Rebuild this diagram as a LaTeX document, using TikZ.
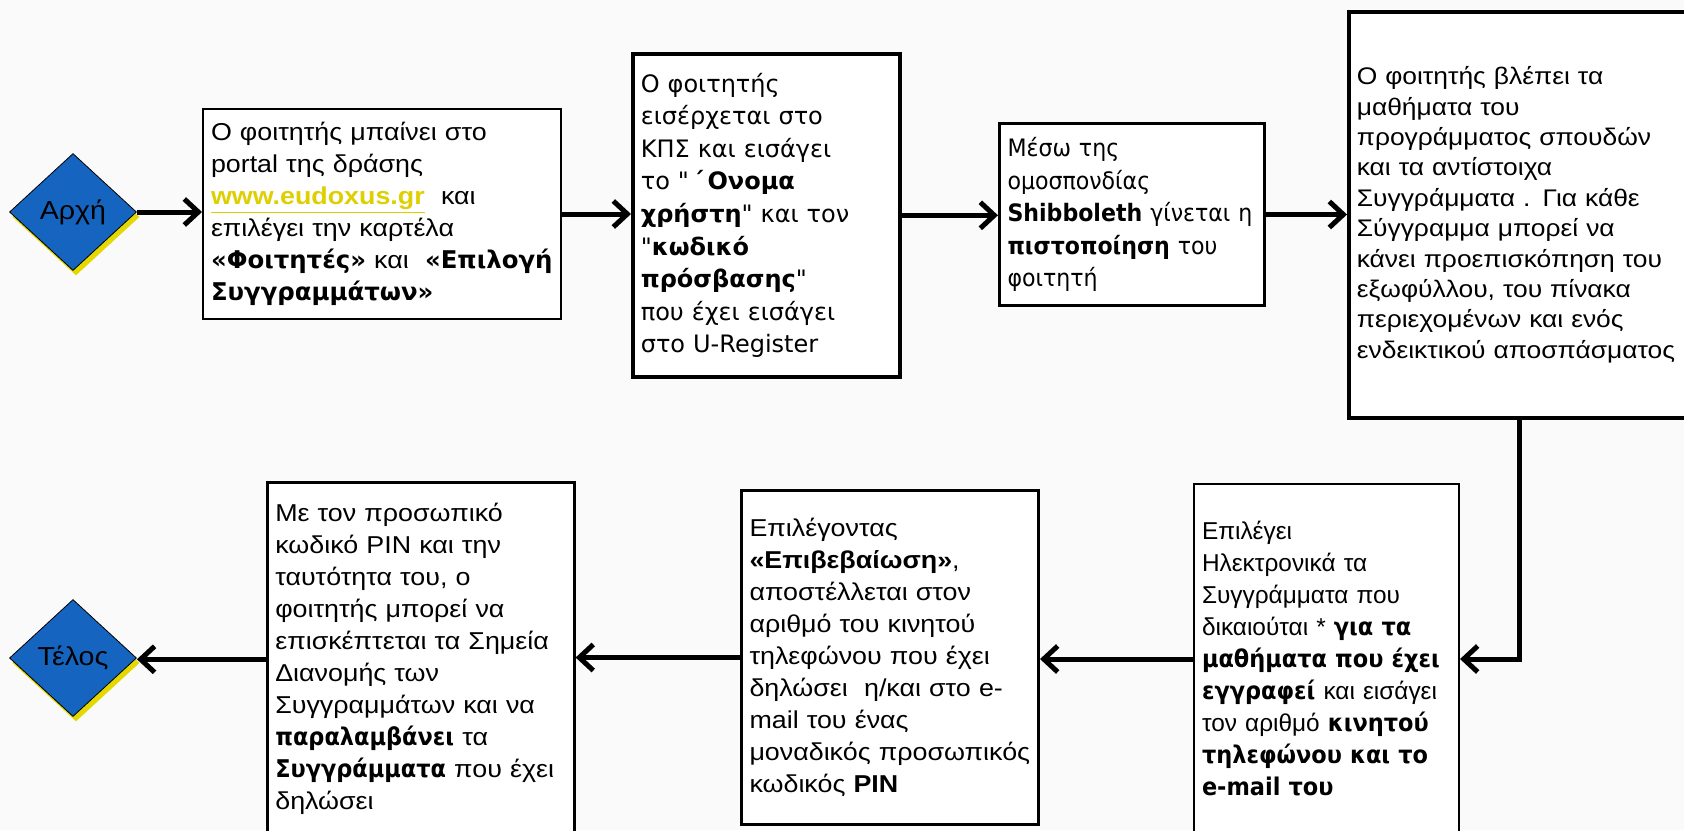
\documentclass[tikz,border=0pt]{standalone}
\usepackage{fontspec}
\setmainfont{Liberation Sans}
\newfontfamily\wfont[FakeStretch=1.1]{Liberation Sans}
\newfontfamily\vfont{DejaVu Sans}
\newfontfamily\tfont[FakeStretch=0.92]{DejaVu Sans}
\usetikzlibrary{shapes.geometric,shadows,arrows.meta}
\definecolor{startblue}{RGB}{21,101,192}
\definecolor{shadeyellow}{RGB}{228,216,0}
\definecolor{linkyellow}{RGB}{222,208,0}
\definecolor{pagegray}{RGB}{250,250,250}
\newcommand{\vb}[1]{{\vfont\bfseries #1}}
\newcommand{\tb}[1]{{\tfont\bfseries #1}}

\begin{document}
\begin{tikzpicture}[x=0.5pt, y=-0.5pt,
    card/.style={draw=black, fill=white, anchor=north west, align=left,
        inner xsep=4pt, inner ysep=0pt, font=\wfont\fontsize{12.2}{16}\selectfont},
    endpoint/.style={diamond, draw=black, thin, fill=startblue, inner sep=0pt,
        minimum width=63.5pt, minimum height=58.5pt, font=\wfont\fontsize{13}{15}\selectfont,
        copy shadow={shadow xshift=1.5pt, shadow yshift=-2.5pt, fill=shadeyellow, draw=none}},
    flow/.style={line width=2.5pt, -{Straight Barb[length=7pt,width=13pt]}}]
\fill[pagegray] (0,0) rectangle (1684,830);
\useasboundingbox (0,0) rectangle (1684,830);

\node[endpoint] (start) at (73,212) {Αρχή};
\node[endpoint] (stop) at (73,658) {Τέλος};

\node[card, line width=1pt, text width=171pt, minimum height=105pt] (b1) at (202,108) {Ο φοιτητής μπαίνει στο\\
portal της δράσης\\
{\bfseries\color{linkyellow}\underline{www.eudoxus.gr}}\ \ και\\
επιλέγει την καρτέλα\\
\vb{«Φοιτητές»} και\ \ \vb{«Επιλογή}\\
\vb{Συγγραμμάτων»}};
\node[card, line width=1.8pt, text width=125.5pt, minimum height=161.5pt,
    font=\vfont\fontsize{12}{16.3}\selectfont] (b2) at (631,52) {Ο φοιτητής\\
εισέρχεται στο\\
ΚΠΣ και εισάγει\\
το "\,\textbf{΄\,Ονομα}\\
\textbf{χρήστη}" και τον\\
"\textbf{κωδικό}\\
\textbf{πρόσβασης}"\\
που έχει εισάγει\\
στο U-Register};
\node[card, line width=1.5pt, text width=124.5pt, minimum height=91pt,
    font=\tfont\fontsize{12}{16.2}\selectfont] (b3) at (998,122) {Μέσω της\\
ομοσπονδίας\\
\textbf{Shibboleth} γίνεται η\\
\textbf{πιστοποίηση} του\\
φοιτητή};
\node[card, line width=1.8pt, text width=163.5pt, minimum height=203pt,
    font=\wfont\fontsize{12}{15.2}\selectfont] (b4) at (1347,10) {Ο φοιτητής βλέπει τα\\
μαθήματα του\\
προγράμματος σπουδών\\
και τα αντίστοιχα\\
Συγγράμματα . Για κάθε\\
Σύγγραμμα μπορεί να\\
κάνει προεπισκόπηση του\\
εξωφύλλου, του πίνακα\\
περιεχομένων και ενός\\
ενδεικτικού αποσπάσματος};

\node[card, line width=1pt, text width=124.5pt, minimum height=175pt,
    font=\fontsize{12.2}{16}\selectfont] (b5) at (1193,483) {Επιλέγει\\
Ηλεκτρονικά τα\\
Συγγράμματα που\\
δικαιούται * \tb{για τα}\\
\tb{μαθήματα που έχει}\\
\tb{εγγραφεί} και εισάγει\\
τον αριθμό \tb{κινητού}\\
\tb{τηλεφώνου και το}\\
\tb{e-mail του}};
\node[card, line width=1.5pt, text width=140.5pt, minimum height=167pt] (b6) at (740,489) {Επιλέγοντας\\
\textbf{«Επιβεβαίωση»},\\
αποστέλλεται στον\\
αριθμό του κινητού\\
τηλεφώνου που έχει\\
δηλώσει\ \ η/και στο e-\\
mail του ένας\\
μοναδικός προσωπικός\\
κωδικός \textbf{PIN}};
\node[card, line width=1.3pt, text width=145.5pt, minimum height=177pt] (b7) at (266,481) {Με τον προσωπικό\\
κωδικό PIN και την\\
ταυτότητα του, ο\\
φοιτητής μπορεί να\\
επισκέπτεται τα Σημεία\\
Διανομής των\\
Συγγραμμάτων και να\\
\tb{παραλαμβάνει} τα\\
\tb{Συγγράμματα} που έχει\\
δηλώσει};

\coordinate (bend) at (1519,657);

\draw[flow] (start.east) -- (start.east -| b1.west);
\draw[flow] (b1.east) -- (b1.east -| b2.west);
\draw[flow] (b2.east) -- (b2.east -| b3.west);
\draw[flow] (b3.east) -- (b3.east -| b4.west);
\draw[flow] (b4.south -| bend) |- (b5.east);
\draw[flow] (b5.west) -- (b5.west -| b6.east);
\draw[flow] (b6.west) -- (b6.west -| b7.east);
\draw[flow] (b7.west) -- (b7.west -| stop.east);
\end{tikzpicture}
\end{document}
